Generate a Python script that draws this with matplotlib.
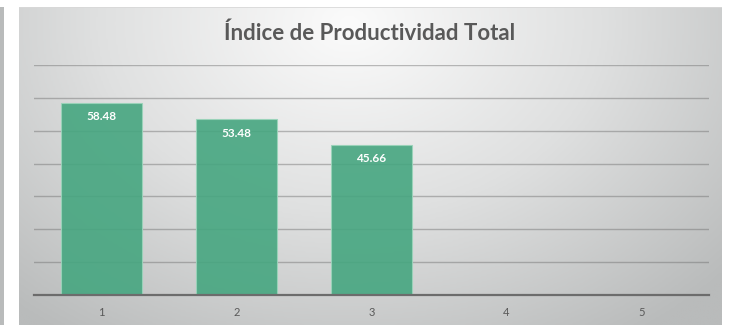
import numpy as np
import matplotlib
matplotlib.use("Agg")
import matplotlib.pyplot as plt
from matplotlib.colors import LinearSegmentedColormap

# Data
categories = ["1", "2", "3", "4", "5"]
values = [58.48, 53.48, 45.66, np.nan, np.nan]
value_labels = ["58.48", "53.48", "45.66", "", ""]
title = "Índice de Productividad Total"

W, H = 731, 325
fig = plt.figure(figsize=(W / 100, H / 100), dpi=100)
fig.patch.set_facecolor("white")

# thin grey strip on the far left
strip = fig.add_axes([0, 0, 4 / W, (H - 7) / H])
strip.set_facecolor("#b9bbbb")
strip.set_xticks([]); strip.set_yticks([])
for s in strip.spines.values():
    s.set_visible(False)

# chart panel with soft radial gradient
px0, px1, py0, py1 = 19, 722, 7, 325
bg = fig.add_axes([px0 / W, 0, (px1 - px0) / W, (py1 - py0) / H])
nx, ny = 400, 200
xx, yy = np.meshgrid(np.linspace(0, 1, nx), np.linspace(0, 1, ny))
cx, cy = 0.47, 0.05
d = np.sqrt(((xx - cx) / 0.72) ** 2 + ((yy - cy) / 1.2) ** 2)
d = np.clip(d, 0, 1)
cmap = LinearSegmentedColormap.from_list("panel", ["#fbfbfb", "#dfe0e0", "#b9bbbb"])
bg.imshow(d, cmap=cmap, aspect="auto", extent=[0, 1, 1, 0], vmin=0, vmax=1, interpolation="bilinear")
bg.set_xlim(0, 1); bg.set_ylim(1, 0)
bg.set_xticks([]); bg.set_yticks([])
for s in bg.spines.values():
    s.set_visible(False)
bg.axhline(0.0, color="#d8d8d8", lw=1.2)

# plotting area
x0, x1, ytop, ybase = 34, 709, 65, 295
ax = fig.add_axes([x0 / W, (H - ybase) / H, (x1 - x0) / W, (ybase - ytop) / H])
ax.patch.set_alpha(0)
x = np.arange(len(categories))
bars = ax.bar(x, values, width=0.6, color="#46a680", alpha=0.9,
              edgecolor="#9ad4ba", linewidth=0.8, zorder=3)
for xi, v, lab in zip(x, values, value_labels):
    if lab:
        ax.annotate(lab, (xi, v), xytext=(0, -10), textcoords="offset points",
                    ha="center", va="center", color="white", fontsize=8.5,
                    fontweight="bold", family="Lato", zorder=4)

ax.set_xlim(-0.5, len(categories) - 0.5)
ax.set_ylim(0, 70)
ax.set_yticks(np.arange(10, 71, 10))
ax.yaxis.grid(True, color="#6e6e6e", alpha=0.45, lw=1.0, zorder=1)
ax.set_axisbelow(True)
ax.tick_params(axis="y", left=False, labelleft=False)
ax.set_xticks(x)
ax.set_xticklabels(categories, family="Lato", fontsize=8, color="#595959")
ax.tick_params(axis="x", length=0, pad=9)
for side in ("top", "right", "left"):
    ax.spines[side].set_visible(False)
ax.spines["bottom"].set_color("#6c6c6c")
ax.spines["bottom"].set_linewidth(1.6)
ax.spines["bottom"].set_zorder(5)

fig.text(370 / W, 1 - 33 / H, title, ha="center", va="center", fontsize=16,
         fontweight="bold", color="#595959", family="Lato")

fig.savefig("out.png", dpi=100)
